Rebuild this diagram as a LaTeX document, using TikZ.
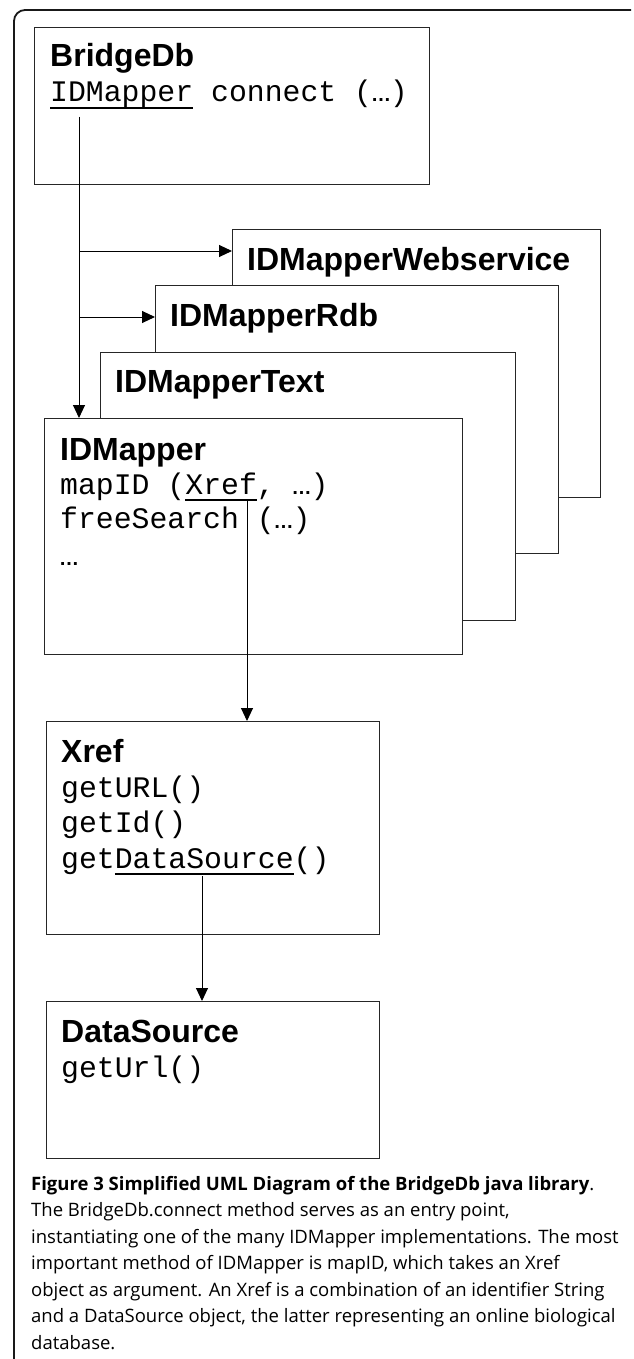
\documentclass[tikz,border=0pt]{standalone}
\usepackage{fontspec}
\setmainfont{Open Sans}
\newfontfamily\hvfont{Liberation Sans}
\newfontfamily\courfont{Liberation Mono}
\usetikzlibrary{arrows.meta}
\newcommand\myul[1]{\setbox0\hbox{#1}\rlap{\rule[-7pt]{\wd0}{2pt}}\box0\relax}
\newcommand\elp{\makebox[17.9pt][c]{\hvfont\bfseries\fontsize{20}{20}\selectfont …}}
\begin{document}
\begin{tikzpicture}[x=1pt,y=-1pt,
  box/.style={draw=black!85, line width=1.3pt, fill=white, inner sep=0pt, anchor=north west},
  lbl/.style={anchor=base west, inner sep=0pt, font=\hvfont\bfseries\fontsize{32}{32}\selectfont},
  mono/.style={anchor=base west, inner sep=0pt, font=\courfont\fontsize{29.8}{30}\selectfont},
  captxt/.style={anchor=base west, inner sep=0pt, font=\fontsize{18.5}{22}\selectfont},
  arr/.style={-{Triangle[length=13pt,width=12pt]}, line width=1pt, black},
  frame/.style={line width=1.8pt, black!90, rounded corners=11pt}]
\useasboundingbox (0,0) rectangle (633,1359);
% outer frame
\draw[frame] (14,1359) -- (14,10) -- (631,10);
% BridgeDb
\node[box, minimum width=395pt, minimum height=157pt] (bdb) at (34,27) {};
\node[lbl] (bdbT) at (50,67) {BridgeDb};
\node[mono] (bdbM) at (50,102) {\myul{IDMapper} connect (\elp)};
% stacked implementations
\node[box, minimum width=368pt, minimum height=268pt] (web) at (232,229) {};
\node[lbl] (webT) at (247,270) {IDMapperWebservice};
\node[box, minimum width=403pt, minimum height=268pt] (rdb) at (155,285) {};
\node[lbl] (rdbT) at (170,326) {IDMapperRdb};
\node[box, minimum width=415pt, minimum height=268pt] (txt) at (100,352) {};
\node[lbl] (txtT) at (115,392) {IDMapperText};
% IDMapper
\node[box, minimum width=418pt, minimum height=236pt] (idm) at (44,418) {};
\node[lbl] (idmT) at (60,460) {IDMapper};
\node[mono] (idm1) at (60,494) {mapID (\myul{Xref}, \elp)};
\node[mono] (idm2) at (60,528) {freeSearch (\elp)};
\node[mono] (idm3) at (60,565) {\elp};
% Xref
\node[box, minimum width=333pt, minimum height=213pt] (xref) at (46,721) {};
\node[lbl] (xrefT) at (61,762) {Xref};
\node[mono] (xref1) at (61,797) {getURL()};
\node[mono] (xref2) at (61,832) {getId()};
\node[mono] (xref3) at (61,868) {get\myul{DataSource}()};
% DataSource
\node[box, minimum width=333pt, minimum height=157pt] (ds) at (46,1001) {};
\node[lbl] (dsT) at (61,1042) {DataSource};
\node[mono] (ds1) at (61,1077) {getUrl()};
% connectors
\coordinate (t0) at (79,117);
\coordinate (b1) at (79,251);
\coordinate (b2) at (79,317);
\coordinate (x0) at (247,501);
\coordinate (d0) at (202,876);
\draw[line width=1pt] (t0) -- (b1);
\draw[arr] (t0) -- (t0 |- idm.north);
\draw[arr] (b1) -- (b1 -| web.west);
\draw[arr] (b2) -- (b2 -| rdb.west);
\draw[arr] (x0) -- (x0 |- xref.north);
\draw[arr] (d0) -- (d0 |- ds.north);
% caption
\node[captxt] (c1) at (31,1190) {\textbf{Figure 3 Simplified UML Diagram of the BridgeDb java library}.};
\node[captxt] (c2) at (31,1216.5) {The BridgeDb.connect method serves as an entry point,};
\node[captxt] (c3) at (31,1243) {instantiating one of the many IDMapper implementations. The most};
\node[captxt] (c4) at (31,1269.5) {important method of IDMapper is mapID, which takes an Xref};
\node[captxt] (c5) at (31,1296) {object as argument. An Xref is a combination of an identifier String};
\node[captxt] (c6) at (31,1322.5) {and a DataSource object, the latter representing an online biological};
\node[captxt] (c7) at (31,1349) {database.};
\end{tikzpicture}
\end{document}
